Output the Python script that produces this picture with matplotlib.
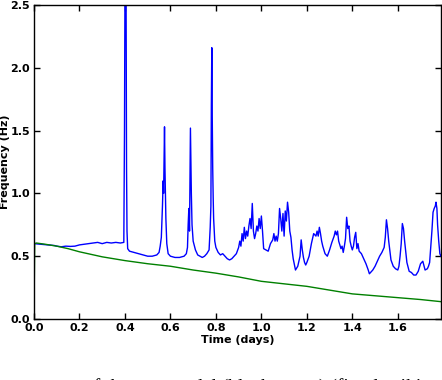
import matplotlib
matplotlib.use("Agg")
import matplotlib.pyplot as plt

# Green curve (model)
green_t = [0.0, 0.003, 0.01, 0.05, 0.10, 0.15, 0.20, 0.30, 0.40, 0.50, 0.60, 0.70,
           0.80, 0.90, 1.00, 1.10, 1.20, 1.30, 1.40, 1.50, 1.60, 1.70, 1.79]
green_v = [0.05, 0.60, 0.605, 0.595, 0.58, 0.56, 0.535, 0.495, 0.465, 0.44, 0.42, 0.39,
           0.365, 0.335, 0.30, 0.28, 0.26, 0.23, 0.20, 0.185, 0.17, 0.155, 0.138]

# Blue curve (measured frequency)
blue_t = [0.0, 0.03, 0.06, 0.09, 0.10, 0.12, 0.14, 0.16, 0.18, 0.20, 0.22, 0.24, 0.26,
          0.28, 0.30, 0.32, 0.34, 0.36, 0.38, 0.395,
          0.398, 0.400, 0.403, 0.405, 0.407, 0.409, 0.412,
          0.42, 0.44, 0.46, 0.48, 0.50, 0.52, 0.54, 0.55, 0.555, 0.56, 0.565, 0.568,
          0.570, 0.572, 0.574, 0.576, 0.578, 0.580, 0.584, 0.59, 0.60, 0.62, 0.64,
          0.66, 0.67, 0.675, 0.678, 0.681, 0.684, 0.686, 0.688, 0.690, 0.692, 0.695,
          0.70, 0.71, 0.72, 0.74, 0.75, 0.76, 0.77, 0.775, 0.778, 0.780, 0.782, 0.784,
          0.786, 0.788, 0.79, 0.795, 0.80, 0.81, 0.82, 0.83, 0.84, 0.85, 0.86, 0.87,
          0.88, 0.89, 0.90, 0.905, 0.91, 0.915, 0.92, 0.925, 0.93, 0.935, 0.94, 0.945,
          0.95, 0.955, 0.96, 0.965, 0.97, 0.975, 0.98, 0.985, 0.99, 0.995, 1.00, 1.005,
          1.01, 1.02, 1.03, 1.04, 1.05, 1.055, 1.06, 1.065, 1.07, 1.075, 1.08, 1.085,
          1.09, 1.095, 1.10, 1.105, 1.11, 1.115, 1.12, 1.125, 1.13, 1.135, 1.14, 1.15,
          1.16, 1.17, 1.175, 1.18, 1.185, 1.19, 1.195, 1.20, 1.21, 1.22, 1.23, 1.24,
          1.245, 1.25, 1.255, 1.26, 1.265, 1.27, 1.28, 1.29, 1.30, 1.31, 1.32, 1.325,
          1.33, 1.335, 1.34, 1.35, 1.355, 1.36, 1.365, 1.37, 1.375, 1.38, 1.385, 1.39,
          1.395, 1.40, 1.405, 1.41, 1.415, 1.42, 1.425, 1.43, 1.44, 1.45, 1.46, 1.47,
          1.475, 1.48, 1.49, 1.50, 1.51, 1.52, 1.53, 1.54, 1.545, 1.55, 1.555, 1.56,
          1.57, 1.58, 1.59, 1.60, 1.605, 1.61, 1.615, 1.62, 1.625, 1.63, 1.64, 1.65,
          1.66, 1.67, 1.68, 1.69, 1.70, 1.71, 1.72, 1.73, 1.735, 1.74, 1.745, 1.75,
          1.755, 1.76, 1.765, 1.768, 1.772, 1.775, 1.78, 1.785, 1.79]
blue_v = [0.60, 0.595, 0.59, 0.585, 0.58, 0.575, 0.58, 0.578, 0.58, 0.59, 0.595, 0.60, 0.605,
          0.61, 0.60, 0.61, 0.605, 0.61, 0.605, 0.61,
          1.5, 2.6, 2.6, 2.55, 1.2, 0.7, 0.56,
          0.54, 0.53, 0.52, 0.51, 0.50, 0.50, 0.51, 0.53, 0.58, 0.65, 0.90, 1.10,
          1.00, 1.25, 1.53, 1.20, 1.00, 0.80, 0.60, 0.52, 0.50, 0.49, 0.49,
          0.50, 0.52, 0.57, 0.75, 0.88, 0.70, 1.10, 1.52, 1.25, 1.00, 0.75,
          0.62, 0.55, 0.51, 0.49, 0.50, 0.52, 0.55, 0.73, 0.90, 1.70, 2.16, 1.60,
          1.20, 0.97, 0.80, 0.62, 0.57, 0.53, 0.51, 0.52, 0.50, 0.48, 0.47, 0.48,
          0.50, 0.52, 0.57, 0.62, 0.58, 0.68, 0.62, 0.73, 0.64, 0.70, 0.66, 0.74,
          0.80, 0.72, 0.92, 0.70, 0.64, 0.68, 0.74, 0.70, 0.80, 0.72, 0.82, 0.70,
          0.56, 0.55, 0.54, 0.60, 0.63, 0.68, 0.62, 0.66, 0.62, 0.68, 0.88, 0.80,
          0.70, 0.84, 0.66, 0.86, 0.78, 0.93, 0.85, 0.70, 0.65, 0.55, 0.48, 0.39,
          0.42, 0.50, 0.63, 0.55, 0.49, 0.45, 0.43, 0.45, 0.50, 0.60, 0.68, 0.66,
          0.70, 0.66, 0.73, 0.68, 0.62, 0.58, 0.52, 0.50, 0.55, 0.61, 0.66, 0.70,
          0.67, 0.70, 0.62, 0.56, 0.58, 0.53, 0.58, 0.64, 0.81, 0.72, 0.74, 0.62,
          0.58, 0.55, 0.58, 0.65, 0.69, 0.56, 0.60, 0.54, 0.52, 0.48, 0.44, 0.39,
          0.36, 0.37, 0.39, 0.42, 0.46, 0.50, 0.53, 0.57, 0.65, 0.79, 0.72, 0.62,
          0.47, 0.42, 0.40, 0.39, 0.42, 0.50, 0.60, 0.76, 0.72, 0.62, 0.45, 0.38,
          0.37, 0.35, 0.35, 0.38, 0.44, 0.46, 0.39, 0.40, 0.42, 0.45, 0.57, 0.70,
          0.85, 0.88, 0.90, 0.93, 0.88, 0.75, 0.62, 0.52, 0.50]

xticks = [0.0, 0.2, 0.4, 0.6, 0.8, 1.0, 1.2, 1.4, 1.6]
yticks = [0.0, 0.5, 1.0, 1.5, 2.0, 2.5]

fig = plt.figure(figsize=(4.42, 3.80), dpi=100)
ax = fig.add_axes([34 / 442, 61 / 380, 407 / 442, 314 / 380])

ax.plot(blue_t, blue_v, color=(0, 0, 1), lw=1.0)
ax.plot(green_t, green_v, color=(0, 0.5, 0), lw=1.0)

ax.set_xlim(0, 1.79)
ax.set_ylim(0, 2.5)
ax.set_xticks(xticks)
ax.set_yticks(yticks)
ax.set_xticklabels([f"{v:.1f}" for v in xticks], fontsize=8, fontweight="bold")
ax.set_yticklabels([f"{v:.1f}" for v in yticks], fontsize=8, fontweight="bold")
ax.tick_params(direction="in", length=4, width=1, top=True, right=True, pad=3)
for s in ax.spines.values():
    s.set_linewidth(1.0)
ax.set_xlabel("Time (days)", fontsize=8, fontweight="bold", labelpad=1)
ax.set_ylabel("Frequency (Hz)", fontsize=8, fontweight="bold", labelpad=0.5)

fig.text(0.19, 0.004, "of the rate model (black curve) (fitted spiking rates) and the",
         fontsize=14, family="Liberation Serif", va="top", ha="left")

fig.savefig("out.png", dpi=100)
